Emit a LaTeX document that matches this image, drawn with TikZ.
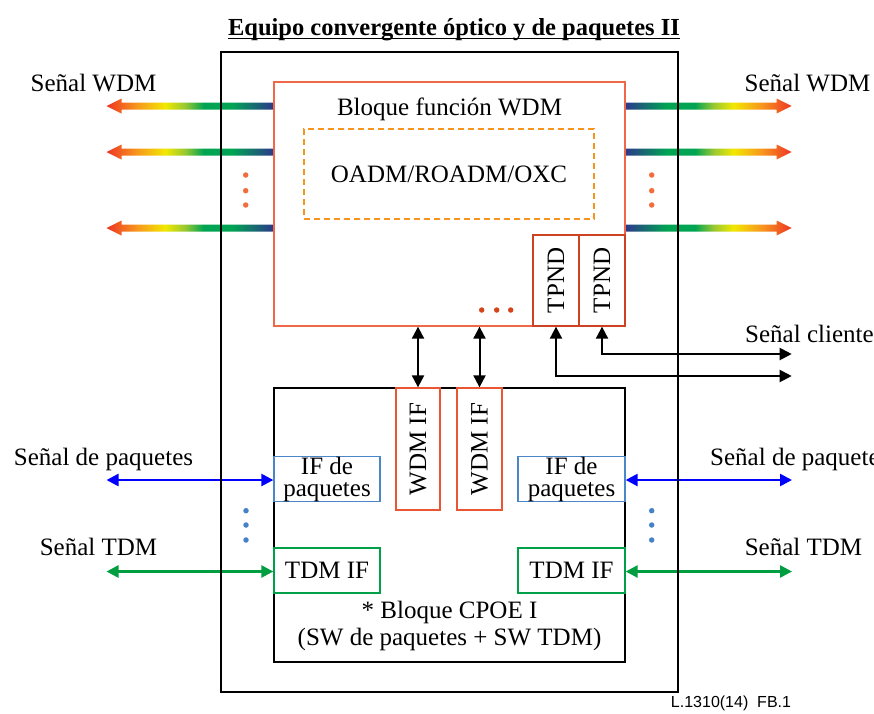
\documentclass[tikz,border=0pt]{standalone}
\usepackage{fontspec}
\setmainfont{Liberation Serif}
\setsansfont{Liberation Sans}
\usetikzlibrary{arrows.meta,calc}
\pgfdeclarelayer{bg}
\pgfsetlayers{bg,main}

% line colours
\definecolor{wdmline}{RGB}{240,104,72}
\definecolor{tpline}{RGB}{205,66,34}
\definecolor{ifline}{RGB}{234,86,52}
\definecolor{dashor}{RGB}{247,148,29}
\definecolor{dotor}{RGB}{244,108,60}
\definecolor{tpdot}{RGB}{212,68,26}
\definecolor{pkline}{RGB}{74,134,200}
\definecolor{pkdot}{RGB}{70,130,200}
\definecolor{pkarrow}{RGB}{0,0,255}
\definecolor{tdline}{RGB}{0,160,72}
\definecolor{tdarrow}{RGB}{0,158,64}

% spectrum of the WDM signal arrows
\definecolor{wred}{RGB}{238,52,36}
\definecolor{worange}{RGB}{247,150,30}
\definecolor{wyellow}{RGB}{242,232,0}
\definecolor{wlime}{RGB}{150,200,50}
\definecolor{wgreen}{RGB}{0,164,82}
\definecolor{wblue}{RGB}{44,56,140}

\pgfdeclarehorizontalshading{wdmL}{100bp}{color(0bp)=(wred); color(25bp)=(wred);
  color(34bp)=(worange); color(42.5bp)=(wyellow); color(48.5bp)=(wlime);
  color(54bp)=(wgreen); color(62.5bp)=(wgreen); color(75bp)=(wblue); color(100bp)=(wblue)}
\pgfdeclarehorizontalshading{wdmR}{100bp}{color(0bp)=(wblue); color(25bp)=(wblue);
  color(37.5bp)=(wgreen); color(46bp)=(wgreen); color(51.5bp)=(wlime);
  color(57.5bp)=(wyellow); color(66bp)=(worange); color(75bp)=(wred); color(100bp)=(wred)}

% WDM signal arrow leaving the block to the left / right at height #1
\newcommand\wdmarrowL[1]{%
  \shade[shading=wdmL] (274,#1-3.5) -- (121.5,#1-3.5) -- (121.5,#1-7.5) -- (106.5,#1)
    -- (121.5,#1+7.5) -- (121.5,#1+3.5) -- (274,#1+3.5) -- cycle;}
\newcommand\wdmarrowR[1]{%
  \shade[shading=wdmR] (625,#1-3.5) -- (776.7,#1-3.5) -- (776.7,#1-7.5) -- (791.7,#1)
    -- (776.7,#1+7.5) -- (776.7,#1+3.5) -- (625,#1+3.5) -- cycle;}

\begin{document}
\begin{tikzpicture}[x=1pt,y=-1pt,
  font=\fontsize{25}{28}\selectfont,
  every node/.style={inner sep=0pt},
  blk/.style={draw, line width=1.3pt, inner sep=0pt},
  tipend/.style={Triangle[length=12pt,width=12pt]},
  biarrow/.style={{Triangle[length=12pt,width=12pt]}-{Triangle[length=12pt,width=12pt]}, line width=2pt},
  bead/.style={circle, minimum size=5.5pt, inner sep=0pt},
]
\useasboundingbox (0,0) rectangle (874,713);

% title
\node[anchor=base, font=\fontsize{24.5}{28}\selectfont\bfseries] (title) at (454,35)
  {Equipo convergente óptico y de paquetes II};
\draw[line width=1.4pt] ($(title.base west)+(0,3.5)$) -- ($(title.base east)+(0,3.5)$);

% WDM function block
\node[blk, draw=wdmline, minimum width=351pt, minimum height=244pt] (wdm) at (449.5,204) {};
\node[anchor=base] (wdmname) at (449.5,115) {Bloque función WDM};
\node[blk, draw=dashor, dash pattern=on 6pt off 4pt, minimum width=290pt, minimum height=90pt]
  (xc) at (449,174) {OADM/ROADM/OXC};
\node[blk, draw=tpline, minimum width=46pt, minimum height=91pt] (tp1) at (556,280.5) {};
\node[rotate=90] (tp1t) at (tp1) {TPND};
\node[blk, draw=tpline, minimum width=46pt, minimum height=91pt] (tp2) at (602,280.5) {};
\node[rotate=90] (tp2t) at (tp2) {TPND};
\foreach \xx [count=\i] in {481.7,496.7,510.7}
  \node[bead, fill=tpdot] (dm\i) at (\xx,310) {};

% CPOE block
\node[blk, minimum width=351pt, minimum height=274pt] (cpoe) at (449.5,525) {};
\node[blk, draw=ifline, minimum width=44pt, minimum height=122pt] (wif1) at (418,449) {};
\node[rotate=90] (wif1t) at (wif1) {WDM IF};
\node[blk, draw=ifline, minimum width=45pt, minimum height=122pt] (wif2) at (479.5,449) {};
\node[rotate=90] (wif2t) at (wif2) {WDM IF};
\node[blk, draw=pkline, minimum width=106pt, minimum height=44pt, align=center,
  font=\fontsize{25}{22}\selectfont] (pkL) at (327,479) {IF de\\paquetes};
\node[blk, draw=pkline, minimum width=107pt, minimum height=44pt, align=center,
  font=\fontsize{25}{22}\selectfont] (pkR) at (571.5,479) {IF de\\paquetes};
\node[blk, draw=tdline, minimum width=106pt, minimum height=45pt] (tdL) at (327,570.5) {TDM IF};
\node[blk, draw=tdline, minimum width=107pt, minimum height=45pt] (tdR) at (571.5,570.5) {TDM IF};
\node[anchor=base] (cp1) at (449.5,618) {* Bloque CPOE I};
\node[anchor=base] (cp2) at (449.5,645) {(SW de paquetes + SW TDM)};

% outer equipment frame
\node[blk, minimum width=457pt, minimum height=640pt] (outer) at (449.5,372) {};

% signal labels
\node[anchor=base] (lw) at (93.5,91) {Señal WDM};
\node[anchor=base] (rw) at (807.5,91) {Señal WDM};
\node[anchor=base west] (rcl) at (745,342) {Señal cliente};
\node[anchor=base] (lpk) at (103.5,465) {Señal de paquetes};
\node[anchor=base west] (rpk) at (710,465) {Señal de paquetes};
\node[anchor=base] (ltd) at (98.5,555) {Señal TDM};
\node[anchor=base] (rtd) at (803.5,555) {Señal TDM};

% continuation dots
\foreach \yy [count=\i] in {175,190.7,205} {
  \node[bead, fill=dotor] (dwl\i) at (245.7,\yy) {};
  \node[bead, fill=dotor] (dwr\i) at (651.7,\yy) {};
}
\foreach \yy [count=\i] in {510.7,525,540} {
  \node[bead, fill=pkdot] (dpl\i) at (246,\yy) {};
  \node[bead, fill=pkdot] (dpr\i) at (651.7,\yy) {};
}

% free ends of the connectors
\coordinate (cl1) at (791.7,376);
\coordinate (cl2) at (791.7,354);
\coordinate (pkLend) at (106.5,480);
\coordinate (pkRend) at (792,480);
\coordinate (tdLend) at (106.5,571.5);
\coordinate (tdRend) at (792,571.5);

\begin{pgfonlayer}{bg}
  \foreach \yy in {106,152,228} { \wdmarrowL{\yy} \wdmarrowR{\yy} }
  \draw[biarrow] (wif1.north) -- (wif1.north |- wdm.south);
  \draw[biarrow] (wif2.north) -- (wif2.north |- wdm.south);
  \draw[biarrow] (tp1.south) |- (cl1);
  \draw[biarrow] (tp2.south) |- (cl2);
  \draw[biarrow, pkarrow, line width=2.5pt] (pkL.west |- pkLend) -- (pkLend);
  \draw[biarrow, pkarrow, line width=2.5pt] (pkR.east |- pkRend) -- (pkRend);
  \draw[biarrow, tdarrow, line width=2.5pt] (tdL.west |- tdLend) -- (tdLend);
  \draw[biarrow, tdarrow, line width=2.5pt] (tdR.east |- tdRend) -- (tdRend);
\end{pgfonlayer}

% figure reference
\node[anchor=base, font=\sffamily\fontsize{16}{18}\selectfont] (ref) at (731,707) {L.1310(14)~~FB.1};
\end{tikzpicture}
\end{document}
